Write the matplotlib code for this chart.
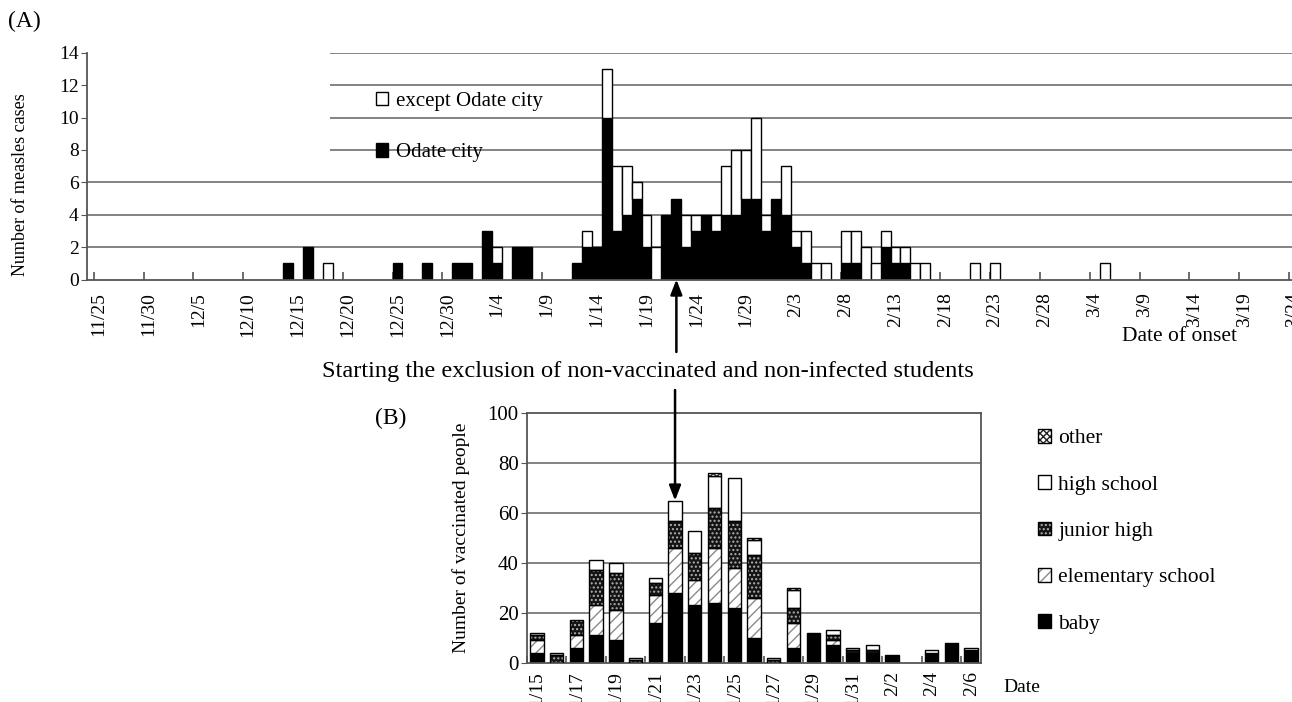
import numpy as np
import pandas as pd
import matplotlib
matplotlib.use('Agg')
import matplotlib.pyplot as plt
import matplotlib.transforms as mtransforms
from matplotlib.patches import Patch

plt.rcParams['font.family'] = ['Liberation Serif', 'DejaVu Serif']
plt.rcParams['hatch.linewidth'] = 1.0

# ---------------- Panel A data: measles cases by date of onset ----------------
onset_start, onset_end = '2003-11-25', '2004-03-24'
case_dates = ['12/14', '12/16', '12/18', '12/25', '12/28', '12/31', '1/1', '1/3', '1/4',
              '1/6', '1/7', '1/12', '1/13', '1/14', '1/15', '1/16', '1/17', '1/18',
              '1/19', '1/20', '1/21', '1/22', '1/23', '1/24', '1/25', '1/26', '1/27',
              '1/28', '1/29', '1/30', '1/31', '2/1', '2/2', '2/3', '2/4', '2/5', '2/6',
              '2/8', '2/9', '2/10', '2/11', '2/12', '2/13', '2/14', '2/15', '2/16',
              '2/21', '2/23', '3/5']
odate_cases = [1, 2, 0, 1, 1, 1, 1, 3, 1,
               2, 2, 1, 2, 2, 10, 3, 4, 5,
               2, 0, 4, 5, 2, 3, 4, 3, 4,
               4, 5, 5, 3, 5, 4, 2, 1, 0, 0,
               1, 1, 0, 0, 2, 1, 1, 0, 0,
               0, 0, 0]
except_cases = [0, 0, 1, 0, 0, 0, 0, 0, 1,
                0, 0, 0, 1, 0, 3, 4, 3, 1,
                2, 2, 0, 0, 2, 1, 0, 1, 3,
                4, 3, 5, 1, 0, 3, 1, 2, 1, 1,
                2, 2, 2, 1, 1, 1, 1, 1, 1,
                1, 1, 1]
a_tick_labels = ['11/25', '11/30', '12/5', '12/10', '12/15', '12/20', '12/25', '12/30',
                 '1/4', '1/9', '1/14', '1/19', '1/24', '1/29', '2/3', '2/8', '2/13',
                 '2/18', '2/23', '2/28', '3/4', '3/9', '3/14', '3/19', '3/24']
a_yticks = [0, 2, 4, 6, 8, 10, 12, 14]

# ---------------- Panel B data: vaccinated people by date ----------------
vacc_start, vacc_end = '2004-01-15', '2004-02-06'
baby       = [4, 0, 6, 11, 9, 0, 16, 28, 23, 24, 22, 10, 0, 6, 12, 7, 4, 4, 3, 0, 4, 8, 5]
elementary = [5, 0, 5, 12, 12, 0, 11, 18, 10, 22, 16, 16, 0, 10, 0, 2, 0, 0, 0, 0, 0, 0, 0]
junior     = [2, 3, 6, 14, 15, 1, 5, 11, 11, 16, 19, 17, 1, 6, 0, 2, 1, 1, 0, 0, 0, 0, 0]
high       = [1, 1, 0, 4, 4, 1, 2, 8, 9, 13, 17, 6, 1, 7, 0, 2, 1, 2, 0, 0, 1, 0, 1]
other      = [0, 0, 0, 0, 0, 0, 0, 0, 0, 1, 0, 1, 0, 1, 0, 0, 0, 0, 0, 0, 0, 0, 0]
b_tick_labels = ['1/15', '1/17', '1/19', '1/21', '1/23', '1/25', '1/27', '1/29',
                 '1/31', '2/2', '2/4', '2/6']
b_yticks = [0, 20, 40, 60, 80, 100]

exclusion_date = '1/22'

# ---------------- build series ----------------
days = pd.date_range(onset_start, onset_end)
day_labels = [f'{d.month}/{d.day}' for d in days]
n_days = len(days)
odate = np.zeros(n_days)
excep = np.zeros(n_days)
for d, o, e in zip(case_dates, odate_cases, except_cases):
    i = day_labels.index(d)
    odate[i] = o
    excep[i] = e
xa_all = np.arange(n_days)

vdays = pd.date_range(vacc_start, vacc_end)
vlabels = [f'{d.month}/{d.day}' for d in vdays]
xb_all = np.arange(len(vdays))

W, H = 1292, 702
fig = plt.figure(figsize=(W / 100, H / 100), dpi=100)

# ---------------- Panel A ----------------
px_per_day = 9.96
x_left_px = 87
c0_px = 98.7
xmin_a = (x_left_px - c0_px) / px_per_day
xmax_a = n_days - 0.5
ax_a = fig.add_axes([x_left_px / W, (H - 279.5) / H,
                     (xmax_a - xmin_a) * px_per_day / W, (279.5 - 52.7) / H])
ax_a.set_xlim(xmin_a, xmax_a)
ax_a.set_ylim(0, 14)

grid_c = '#7a7a7a'
for yv in [2, 4, 6]:
    ax_a.axhline(yv, color=grid_c, lw=1.3, zorder=0)
ax_a.hlines([8, 10, 12, 14], (330 - c0_px) / px_per_day, xmax_a, color=grid_c, lw=1.3, zorder=0)

m = odate > 0
ax_a.bar(xa_all[m], odate[m], width=1.0, color='black', edgecolor='black', lw=1.0, zorder=2)
m2 = excep > 0
ax_a.bar(xa_all[m2], excep[m2], bottom=odate[m2], width=1.0, color='white',
         edgecolor='black', lw=1.0, zorder=2)

for s in ['top', 'right']:
    ax_a.spines[s].set_visible(False)
for s in ['left', 'bottom']:
    ax_a.spines[s].set_color('#555555')
    ax_a.spines[s].set_linewidth(1.3)

a_tick_pos = [day_labels.index(l) for l in a_tick_labels]
ax_a.set_xticks(a_tick_pos)
ax_a.set_xticklabels(a_tick_labels, rotation=90, fontsize=14)
ax_a.set_xticks([p - 0.5 for p in a_tick_pos], minor=True)
ax_a.tick_params(axis='x', which='major', length=0, pad=9)
ax_a.tick_params(axis='x', which='minor', direction='in', length=6, color='#555555', width=1.2)
ax_a.set_yticks(a_yticks)
ax_a.tick_params(axis='y', labelsize=14, direction='out', length=4, pad=2, color='#555555')
ax_a.set_ylabel('Number of measles cases', fontsize=13)
ax_a.yaxis.set_label_coords(-0.048, 0.42)

fig.legend(handles=[Patch(facecolor='white', edgecolor='black', lw=1.0),
                    Patch(facecolor='black', edgecolor='black', lw=1.0)],
           labels=['except Odate city', 'Odate city'],
           loc='upper left', bbox_to_anchor=(376 / W, 1 - 92 / H), frameon=False,
           fontsize=15, handlelength=0.6, handleheight=0.6, handletextpad=0.35,
           labelspacing=1.55, borderpad=0, borderaxespad=0)

fig.text(8 / W, 1 - 21 / H, '(A)', fontsize=17, va='center', ha='left')
fig.text(1122 / W, 1 - 336 / H, 'Date of onset', fontsize=15.5, va='center', ha='left')

# ---------------- Panel B ----------------
ax_b = fig.add_axes([527 / W, (H - 662.7) / H, (981 - 527) / W, (662.7 - 413.3) / H])
ax_b.set_xlim(-0.5, len(vdays) - 0.5)
ax_b.set_ylim(0, 100)
for yv in [20, 40, 60, 80]:
    ax_b.axhline(yv, color=grid_c, lw=1.3, zorder=0)

bw = 0.68
baby_a = np.array(baby, float)
elem_a = np.array(elementary, float)
jun_a = np.array(junior, float)
high_a = np.array(high, float)
oth_a = np.array(other, float)

styles = {
    'baby': dict(face='black', hatch=None, hc='black'),
    'elementary school': dict(face='white', hatch='///', hc='#8a8a8a'),
    'junior high': dict(face='#141414', hatch='....', hc='#b0b0b0'),
    'high school': dict(face='white', hatch=None, hc='black'),
    'other': dict(face='white', hatch='xxxxx', hc='#222222'),
}
series = [('baby', baby_a), ('elementary school', elem_a), ('junior high', jun_a),
          ('high school', high_a), ('other', oth_a)]
bottom = np.zeros(len(vdays))
for name, vals in series:
    st = styles[name]
    mk = vals > 0
    if st['hatch']:
        ax_b.bar(xb_all[mk], vals[mk], bottom=bottom[mk], width=bw, color=st['face'],
                 edgecolor=st['hc'], hatch=st['hatch'], lw=0, zorder=2)
        ax_b.bar(xb_all[mk], vals[mk], bottom=bottom[mk], width=bw, fill=False,
                 edgecolor='black', lw=1.0, zorder=3)
    else:
        ax_b.bar(xb_all[mk], vals[mk], bottom=bottom[mk], width=bw, color=st['face'],
                 edgecolor='black', lw=1.0, zorder=2)
    bottom = bottom + vals
total_b = bottom

for s in ax_b.spines.values():
    s.set_color('#555555')
    s.set_linewidth(1.3)

b_tick_pos = [vlabels.index(l) for l in b_tick_labels]
ax_b.set_xticks(b_tick_pos)
ax_b.set_xticklabels(b_tick_labels, rotation=90, fontsize=14)
ax_b.set_xticks([p - 0.5 for p in b_tick_pos], minor=True)
ax_b.tick_params(axis='x', which='major', length=0, pad=6)
ax_b.tick_params(axis='x', which='minor', direction='in', length=5, color='#555555', width=1.2)
ax_b.set_yticks(b_yticks)
ax_b.tick_params(axis='y', labelsize=15, direction='out', length=4, pad=2, color='#555555')
ax_b.set_ylabel('Number of vaccinated people', fontsize=14)
ax_b.yaxis.set_label_coords(-0.126, 0.5)

def handle(name):
    st = styles[name]
    if st['hatch']:
        return (Patch(facecolor=st['face'], edgecolor=st['hc'], hatch=st['hatch'], lw=0),
                Patch(fill=False, edgecolor='black', lw=1.0))
    return Patch(facecolor=st['face'], edgecolor='black', lw=1.0)

leg_names = ['other', 'high school', 'junior high', 'elementary school', 'baby']
fig.legend(handles=[handle(n) for n in leg_names], labels=leg_names,
           loc='upper left', bbox_to_anchor=(1038 / W, 1 - 429 / H), frameon=False,
           fontsize=15.5, handlelength=0.6, handleheight=0.6, handletextpad=0.35,
           labelspacing=1.25, borderpad=0, borderaxespad=0)

fig.text(375 / W, 1 - 418 / H, '(B)', fontsize=17, va='center', ha='left')
fig.text(1003 / W, 1 - 687 / H, 'Date', fontsize=14, va='center', ha='left')

# ---------------- exclusion annotation ----------------
xa = day_labels.index(exclusion_date)
xb = vlabels.index(exclusion_date)
trans_a = mtransforms.blended_transform_factory(ax_a.transData, fig.transFigure)
trans_b = mtransforms.blended_transform_factory(ax_b.transData, fig.transFigure)
arrow = dict(arrowstyle='-|>,head_length=0.9,head_width=0.35', color='black', lw=1.8,
             shrinkA=0, shrinkB=0)
ax_a.annotate('', xy=(xa, 0), xycoords='data', xytext=(xa, 1 - 352 / H),
              textcoords=trans_a, arrowprops=arrow, annotation_clip=False)
ax_b.annotate('', xy=(xb, total_b[xb]), xycoords='data', xytext=(xb, 1 - 390 / H),
              textcoords=trans_b, arrowprops=arrow, annotation_clip=False)
fig.text(648 / W, 1 - 372 / H,
         'Starting the exclusion of non-vaccinated and non-infected students',
         fontsize=17.6, ha='center', va='center')

fig.savefig('out.png', dpi=100)
